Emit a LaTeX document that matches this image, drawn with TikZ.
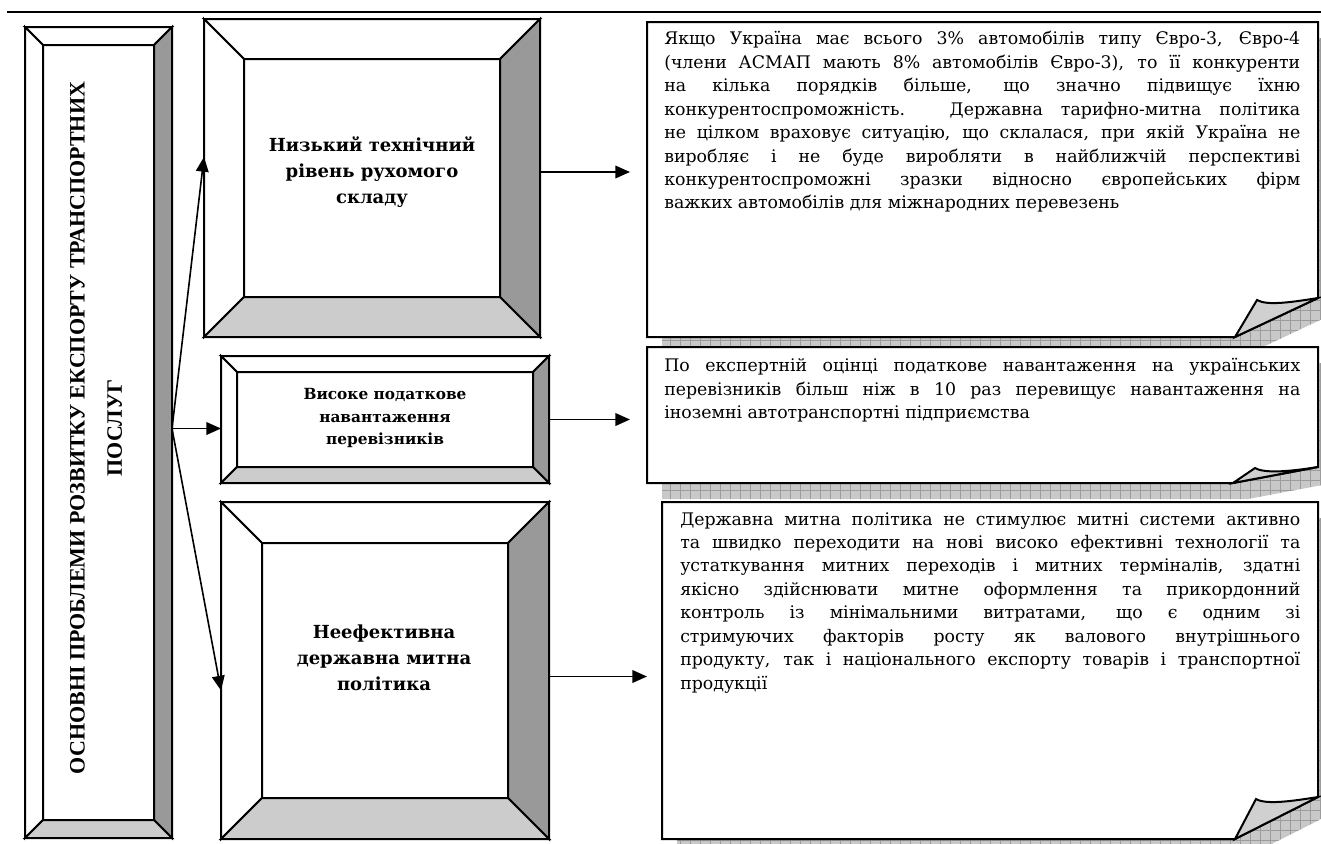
\documentclass[tikz,border=0pt]{standalone}
\usepackage{fontspec}
\setmainfont{DejaVu Serif}
\newfontfamily\timesfont{Liberation Serif}
\usetikzlibrary{arrows.meta,calc,fit}

\definecolor{bevdark}{HTML}{999999}
\definecolor{bevlight}{HTML}{CCCCCC}
\definecolor{foldgray}{HTML}{D0D0D0}
\definecolor{shadowfill}{HTML}{C8C8C8}
\definecolor{shadowgrid}{HTML}{9C9C9C}

\tikzset{
  boxline/.style={line width=1.5pt, line join=miter},
  noteline/.style={line width=1.5pt, line join=miter},
  arr/.style={line width=1.2pt, -{Triangle[length=11pt,width=9.5pt]}},
  frame/.style={inner sep=0pt, outer sep=0pt},
  notetext/.style={anchor=north west, inner sep=0pt, align=justify,
    font=\fontsize{13}{17.6}\selectfont,
    execute at begin node={\parindent=0pt\tolerance=10000\hyphenpenalty=10000}},
  boxtext/.style={align=center, inner sep=0pt, font=\bfseries\fontsize{13.5}{19.5}\selectfont},
}

% bevelled box: name, x1, y1, x2, y2, bevel depth
\newcommand\bevelbox[6]{%
  \filldraw[boxline,fill=white] (#2,#3) -- (#4,#3) -- ({#4-#6},{#3+#6}) -- ({#2+#6},{#3+#6}) -- cycle;
  \filldraw[boxline,fill=white] (#2,#3) -- ({#2+#6},{#3+#6}) -- ({#2+#6},{#5-#6}) -- (#2,#5) -- cycle;
  \filldraw[boxline,fill=bevdark] (#4,#3) -- (#4,#5) -- ({#4-#6},{#5-#6}) -- ({#4-#6},{#3+#6}) -- cycle;
  \filldraw[boxline,fill=bevlight] (#2,#5) -- (#4,#5) -- ({#4-#6},{#5-#6}) -- ({#2+#6},{#5-#6}) -- cycle;
  \node[frame,fit={(#2,#3) (#4,#5)}] (#1) {};
}

% note with curled corner: name, x1, y1, x2, y2, fold base x, fold right y, curl tip x, curl tip y
\newcommand\notebox[9]{%
  \begin{scope}
    \clip ({#2+15},{#3+16}) -- ({#4+15},{#3+16}) -- ({#4+15},{#7+16}) -- ({#6+15},{#5+16}) -- ({#2+15},{#5+16}) -- cycle;
    \fill[shadowfill] (#2,#3) rectangle ({#4+20},{#5+20});
    \foreach \gx in {600,610,...,1340} \draw[shadowgrid,line width=0.5pt] (\gx,#3) -- (\gx,{#5+20});
    \foreach \gy in {0,10,...,860} \draw[shadowgrid,line width=0.5pt] (#2,\gy) -- ({#4+20},\gy);
  \end{scope}
  \filldraw[noteline,fill=white] (#2,#3) -- (#4,#3) -- (#4,#7) -- (#6,#5) -- (#2,#5) -- cycle;
  \filldraw[noteline,fill=foldgray] (#6,#5) -- (#8,#9) .. controls ({#8+10},{#9+6}) and ({#4-25},{#7+4}) .. (#4,#7) -- cycle;
  \node[frame,fit={(#2,#3) (#4,#5)}] (#1) {};
}

\begin{document}
\begin{tikzpicture}[x=0.75pt,y=-0.75pt]
\useasboundingbox (0,0) rectangle (1321,843);

% header rule
\draw[line width=2pt] (7,12) -- (1321,12);

% main heading column
\bevelbox{L}{25}{27}{172}{838}{18}
\node[rotate=90, align=center, inner sep=0pt,
      font=\timesfont\bfseries\fontsize{16.5}{28}\selectfont] (Lt) at (96,428)
  {ОСНОВНІ ПРОБЛЕМИ РОЗВИТКУ ЕКСПОРТУ ТРАНСПОРТНИХ\\ПОСЛУГ};

% problem boxes
\bevelbox{b1}{204}{19}{540}{337}{40}
\bevelbox{b2}{221}{356}{549}{483}{16}
\bevelbox{b3}{221}{502}{549}{839}{41}

\node[boxtext] (t1) at (372,172) {Низький технічний\\рівень рухомого\\складу};
\node[boxtext, font=\bfseries\fontsize{11.5}{17}\selectfont] (t2) at (385,418)
  {Високе податкове\\навантаження\\перевізників};
\node[boxtext] (t3) at (384,658) {Неефективна\\державна митна\\політика};

% explanatory notes
\notebox{n1}{647}{22}{1318}{337}{1235}{298}{1257}{300}
\notebox{n2}{647}{347}{1318}{483}{1233}{467}{1255}{468}
\notebox{n3}{662}{502}{1318}{839}{1235}{797}{1256}{799}

\node[notetext, text width=477pt] (n1t) at (664,31) {%
Якщо Україна має всього 3\% автомобілів типу Євро-3, Євро-4\linebreak
(члени АСМАП мають 8\% автомобілів Євро-3), то її конкуренти\linebreak
на кілька порядків більше, що значно підвищує їхню\linebreak
конкурентоспроможність. Державна тарифно-митна політика\linebreak
не цілком враховує ситуацію, що склалася, при якій Україна не\linebreak
виробляє і не буде виробляти в найближчій перспективі\linebreak
конкурентоспроможні зразки відносно європейських фірм\linebreak
важких автомобілів для міжнародних перевезень};

\node[notetext, text width=477pt] (n2t) at (664,358) {%
По експертній оцінці податкове навантаження на українських\linebreak
перевізників більш ніж в 10 раз перевищує навантаження на\linebreak
іноземні автотранспортні підприємства};

\node[notetext, text width=465pt] (n3t) at (680,512) {%
Державна митна політика не стимулює митні системи активно\linebreak
та швидко переходити на нові високо ефективні технології та\linebreak
устаткування митних переходів і митних терміналів, здатні\linebreak
якісно здійснювати митне оформлення та прикордонний\linebreak
контроль із мінімальними витратами, що є одним зі\linebreak
стримуючих факторів росту як валового внутрішнього\linebreak
продукту, так і національного експорту товарів і транспортної\linebreak
продукції};

% connectors
\coordinate (hub) at ($(L.east)+(0,-4)$);
\draw[arr] (hub) -- ($(b1.west)+(0,-21)$);
\draw[arr] (hub) -- (hub -| b2.west);
\draw[arr] (hub) -- ($(b3.west)+(0,20)$);
\draw[arr] ($(b1.east)+(0,-6)$) -- ($(b1.east -| n1.west)+(-17,-6)$);
\draw[arr] (b2.east) -- ($(b2.east -| n2.west)+(-17,0)$);
\draw[arr] ($(b3.east)+(0,6)$) -- ($(b3.east -| n3.west)+(-15,6)$);
\end{tikzpicture}
\end{document}
